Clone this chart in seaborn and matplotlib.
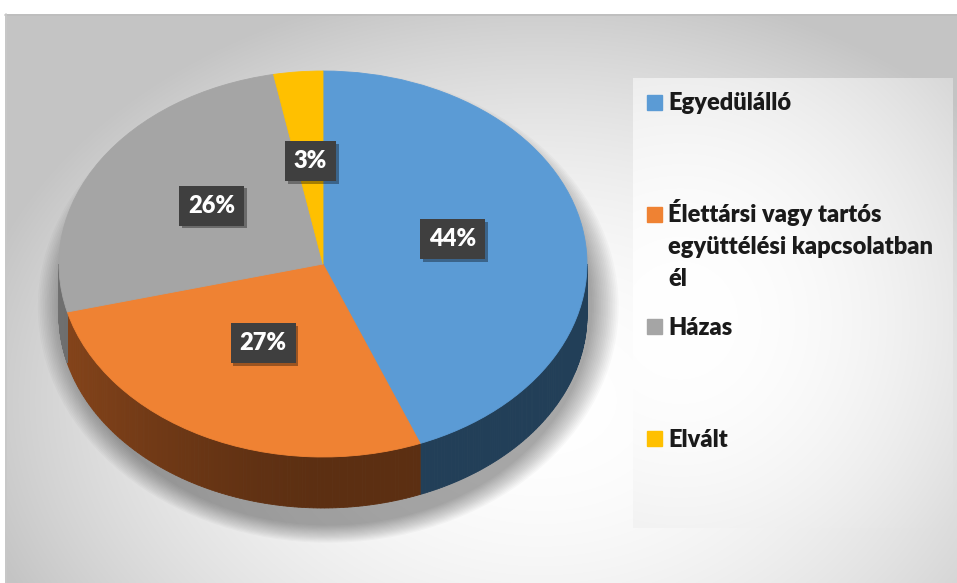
#!/usr/bin/env python3
# 3D-looking pie of relationship status, with a side legend

import numpy as np
import seaborn as sns
import matplotlib.pyplot as plt
from matplotlib.patches import Polygon, Ellipse, Rectangle
from matplotlib import patheffects as pe

sns.set_style("white")
plt.rcParams['font.family'] = ['Lato', 'DejaVu Sans']

categories = ["Egyedülálló",
              "Élettársi vagy tartós\negyüttélési kapcsolatban\nél",
              "Házas",
              "Elvált"]
shares = [44, 27, 26, 3]
colors = ["#5b9bd5", "#ef8233", "#a5a5a5", "#ffc000"]
side_colors = ["#223f58", "#5c2f12", "#4d4d4d", "#7a5c00"]

W, H = 957, 583
CX, CY = 323, 264      # centre of the pie top, pixels
RX, RY = 264, 193      # half axes of the pie top, pixels
DEPTH = 51             # thickness of the pie, pixels
WEIGHT = 'heavy'


def gradient(ax, x0, x1, y0, y1, cx, cy, sx, sy, k, lo):
    yy, xx = np.mgrid[y0:y1, x0:x1]
    r2 = ((xx - cx) / sx) ** 2 + ((yy - cy) / sy) ** 2
    g = np.clip(1 - k * r2, lo, 1.0)
    ax.imshow(np.dstack([g, g, g]), extent=(x0, x1, y1, y0),
              aspect='auto', interpolation='bilinear', zorder=0)


def shade(color, f):
    c = np.array(plt.matplotlib.colors.to_rgb(color))
    return tuple(np.clip(c * f, 0, 1))


fig = plt.figure(figsize=(W / 100, H / 100), dpi=100)

# background, frame and legend live in pixel coordinates
bg = fig.add_axes([0, 0, 1, 1])
gradient(bg, 5, W, 14, H, 540, 400, 620, 450, 0.26, 0.77)
bg.plot([5, W], [14.5, 14.5], color="#bdbdbd", lw=1.2)
bg.plot([5.5, 5.5], [14, H], color="#c8c8c8", lw=1.2)
gradient(bg, 633, 953, 78, 528, 680, 320, 330, 340, 0.13, 0.84)

for i, (lab, c) in enumerate(zip(categories, colors)):
    y0 = 102 + i * 112.3
    bg.add_patch(Rectangle((647, y0 - 7.5), 15, 15, color=c, zorder=3))
    for j, line in enumerate(lab.split("\n")):
        bg.text(668, y0 + 8 + j * 32, line, fontsize=17, fontweight=WEIGHT,
                va='baseline', ha='left', color='#1a1a1a', zorder=3)

bg.set_xlim(0, W)
bg.set_ylim(H, 0)
bg.axis('off')

# pie in unit coordinates, stretched into an ellipse by the axis limits
ax = fig.add_axes([0, 0, 1, 1], zorder=1)
ax.patch.set_alpha(0)
wedges, _ = ax.pie(shares, colors=colors, startangle=90, counterclock=False,
                   wedgeprops=dict(linewidth=0.6, zorder=3))
for w in wedges:
    w.set_edgecolor(w.get_facecolor())

d = DEPTH / RY

# soft shadow under the pie, pushed down so the back edge stays clean
for e in np.linspace(0.10, 0.0, 16):
    ax.add_patch(Ellipse((0.02, -d / 2 - 0.09), 2 * (1 + e), 2 * (1 + d / 2 + e * 0.9),
                         color='k', alpha=0.022, lw=0, zorder=1))

# visible side of each slice (front half of the rim)
for w, sc in zip(wedges, side_colors):
    for k in range(-2, 2):
        a = max(w.theta1, -180 + 360 * k)
        b = min(w.theta2, 0 + 360 * k)
        if b <= a:
            continue
        ts = np.radians(np.linspace(a, b, 120))
        for t0, t1 in zip(ts[:-1], ts[1:]):
            f = 1 + 0.45 * max(0.0, -np.cos((t0 + t1) / 2)) ** 1.5
            col = shade(sc, f)
            pts = [(np.cos(t0), np.sin(t0)), (np.cos(t1), np.sin(t1)),
                   (np.cos(t1), np.sin(t1) - d), (np.cos(t0), np.sin(t0) - d)]
            ax.add_patch(Polygon(pts, closed=True, fc=col, ec=col, lw=0.6, zorder=2))

# percentage labels in dark boxes
for w, s in zip(wedges, shares):
    mid = np.radians((w.theta1 + w.theta2) / 2)
    t = ax.text(0.5 * np.cos(mid), 0.5 * np.sin(mid) + 0.035, f"{s}%",
                ha='center', va='center', fontsize=17, fontweight=WEIGHT,
                color='white', zorder=5,
                bbox=dict(boxstyle='square,pad=0.38', fc='#3f3f3f', ec='none'))
    t.get_bbox_patch().set_path_effects(
        [pe.withSimplePatchShadow(offset=(2, -2), shadow_rgbFace='k', alpha=0.35), pe.Normal()])

ax.set_aspect('auto')
ax.set_xlim(-CX / RX, (W - CX) / RX)
ax.set_ylim(-(H - CY) / RY, CY / RY)
ax.axis('off')

plt.savefig("out.png", dpi=100)
